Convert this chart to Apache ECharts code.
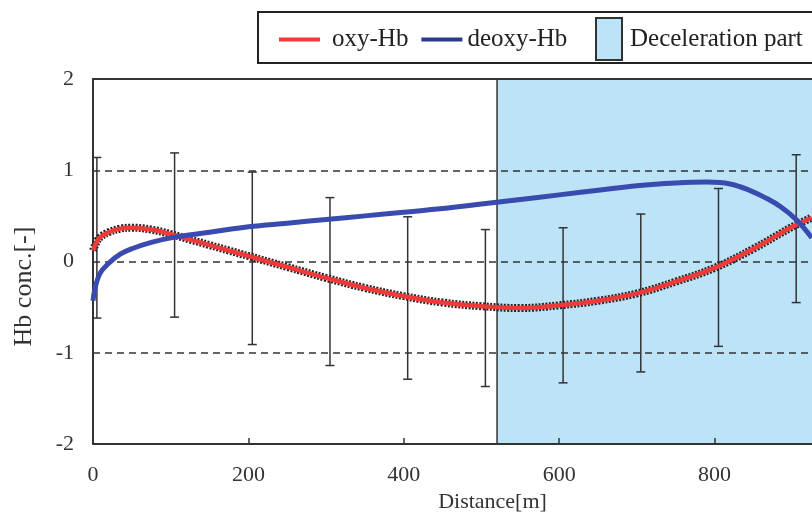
<!DOCTYPE html>
<html>
<head>
<meta charset="utf-8">
<script src="https://cdn.jsdelivr.net/npm/echarts@6/dist/echarts.min.js"></script>
<style>
  html, body { margin: 0; padding: 0; background: #fff; }
  #chart { width: 812px; height: 517px; }
</style>
</head>
<body>
<div id="chart"></div>
<script>
// distance [m] and concentrations
const oxyX = [0, 5, 10, 20, 35, 50, 75, 100, 125, 150, 175, 200, 250, 300, 350, 400, 450, 500, 550, 600, 650, 700, 750, 800, 850, 900, 925];
const oxyY = [0.12, 0.22, 0.27, 0.32, 0.36, 0.37, 0.35, 0.30, 0.24, 0.18, 0.12, 0.06, -0.06, -0.18, -0.29, -0.38, -0.45, -0.49, -0.51, -0.48, -0.43, -0.35, -0.22, -0.07, 0.14, 0.38, 0.48];
const deoxyX = [0, 3, 9, 20, 35, 50, 75, 107, 150, 200, 250, 300, 350, 400, 450, 500, 550, 600, 650, 700, 750, 790, 820, 845, 865, 885, 905, 925];
const deoxyY = [-0.43, -0.28, -0.13, -0.02, 0.08, 0.14, 0.21, 0.27, 0.32, 0.38, 0.42, 0.46, 0.50, 0.54, 0.58, 0.63, 0.68, 0.73, 0.78, 0.83, 0.86, 0.87, 0.85, 0.78, 0.70, 0.60, 0.46, 0.26];
// error bars (SD) of oxy-Hb
const errX = [5, 105, 205, 305, 405, 505, 605, 705, 805, 905];
const errLow = [-0.62, -0.61, -0.91, -1.14, -1.29, -1.37, -1.33, -1.21, -0.93, -0.45];
const errHigh = [1.14, 1.19, 0.98, 0.70, 0.49, 0.35, 0.37, 0.52, 0.80, 1.17];
// deceleration part
const decelStart = 520;
const decelEnd = 1000;

const FONT = 'Liberation Serif';
const zip = (a, b) => a.map((v, i) => [v, b[i]]);

const chart = echarts.init(document.getElementById('chart'));
chart.setOption({
  animation: false,
  grid: {
    left: 93, top: 79, bottom: 73, right: -58,
    outerBoundsMode: 'none', containLabel: false
  },
  graphic: [{
    type: 'rect', z: 10,
    shape: { x: 258, y: 12, width: 600, height: 51 },
    style: { fill: 'none', stroke: '#222', lineWidth: 2 }
  }],
  legend: [{
    left: 279, top: 27, padding: 0, itemWidth: 41, itemHeight: 4, itemGap: 13,
    icon: 'rect',
    textStyle: { fontFamily: FONT, fontSize: 25, color: '#222' },
    data: [
      { name: 'oxy-Hb', itemStyle: { color: '#f03a3a' }, textStyle: { padding: [0, 0, 0, 7] } },
      { name: 'deoxy-Hb', itemStyle: { color: '#2b3a8f' } }
    ]
  }, {
    left: 595, top: 17, padding: 0, itemWidth: 26, itemHeight: 42,
    textStyle: { fontFamily: FONT, fontSize: 25, color: '#222', padding: [0, 0, 0, 3] },
    data: [{
      name: 'Deceleration part', icon: 'rect',
      itemStyle: { color: '#bde3f7', borderColor: '#333', borderWidth: 2 }
    }]
  }],
  xAxis: [{
    type: 'value', min: 0, max: 1000, interval: 200, z: 3,
    name: 'Distance[m]', nameLocation: 'middle', nameGap: 40,
    nameTextStyle: { fontFamily: FONT, fontSize: 22, color: '#333', padding: [0, 0, 0, 22] },
    axisLine: { show: true, onZero: false, lineStyle: { color: '#333', width: 2 } },
    axisTick: { show: true, inside: true, length: 6, lineStyle: { color: '#333', width: 1.5 } },
    axisLabel: { fontFamily: FONT, fontSize: 22, color: '#333', margin: 20, showMaxLabel: false },
    splitLine: { show: false }
  }, {
    // top frame line
    type: 'value', position: 'top', min: 0, max: 1000, z: 3,
    axisLine: { show: true, onZero: false, lineStyle: { color: '#333', width: 2 } },
    axisTick: { show: false }, axisLabel: { show: false }, splitLine: { show: false }
  }],
  yAxis: {
    type: 'value', min: -2, max: 2, interval: 1, z: 2,
    name: 'Hb conc.[-]', nameLocation: 'middle', nameGap: 56,
    nameTextStyle: { fontFamily: FONT, fontSize: 26, color: '#333', padding: [0, 50, 0, 0] },
    axisLine: { show: true, onZero: false, lineStyle: { color: '#333', width: 2 } },
    axisTick: { show: false },
    axisLabel: { fontFamily: FONT, fontSize: 22, color: '#333', margin: 19 },
    splitLine: {
      show: true, showMinLine: false, showMaxLine: false,
      lineStyle: { color: '#333', width: 1.5, type: [7, 5] }
    }
  },
  series: [
    {
      name: 'Deceleration part', type: 'line', data: [], z: 1,
      markArea: {
        silent: true,
        itemStyle: { color: '#bde3f7', borderColor: '#333', borderWidth: 1.5 },
        data: [[{ xAxis: decelStart, yAxis: -2 }, { xAxis: decelEnd, yAxis: 2 }]]
      }
    },
    {
      name: 'err', type: 'custom', z: 3,
      data: errX.map((x, i) => [x, errLow[i], errHigh[i]]),
      renderItem: function (params, api) {
        const lo = api.coord([api.value(0), api.value(1)]);
        const hi = api.coord([api.value(0), api.value(2)]);
        const w = 4.5;
        const st = { stroke: '#333', lineWidth: 1.5 };
        return {
          type: 'group',
          children: [
            { type: 'line', shape: { x1: lo[0], y1: lo[1], x2: hi[0], y2: hi[1] }, style: st },
            { type: 'line', shape: { x1: lo[0] - w, y1: lo[1], x2: lo[0] + w, y2: lo[1] }, style: st },
            { type: 'line', shape: { x1: hi[0] - w, y1: hi[1], x2: hi[0] + w, y2: hi[1] }, style: st }
          ]
        };
      }
    },
    {
      name: 'oxy-outline', type: 'line', smooth: 0.4, showSymbol: false, z: 4,
      data: zip(oxyX, oxyY),
      lineStyle: { color: '#222', width: 8, type: [2, 1.5] }
    },
    {
      name: 'oxy-Hb', type: 'line', smooth: 0.4, showSymbol: false, z: 5,
      data: zip(oxyX, oxyY),
      itemStyle: { color: '#f03a3a' },
      lineStyle: { color: '#f03a3a', width: 4.5 }
    },
    {
      name: 'deoxy-Hb', type: 'line', smooth: 0.4, showSymbol: false, z: 6,
      data: zip(deoxyX, deoxyY),
      itemStyle: { color: '#3a4bb0' },
      lineStyle: { color: '#3a4bb0', width: 5 }
    }
  ]
});
</script>
</body>
</html>
